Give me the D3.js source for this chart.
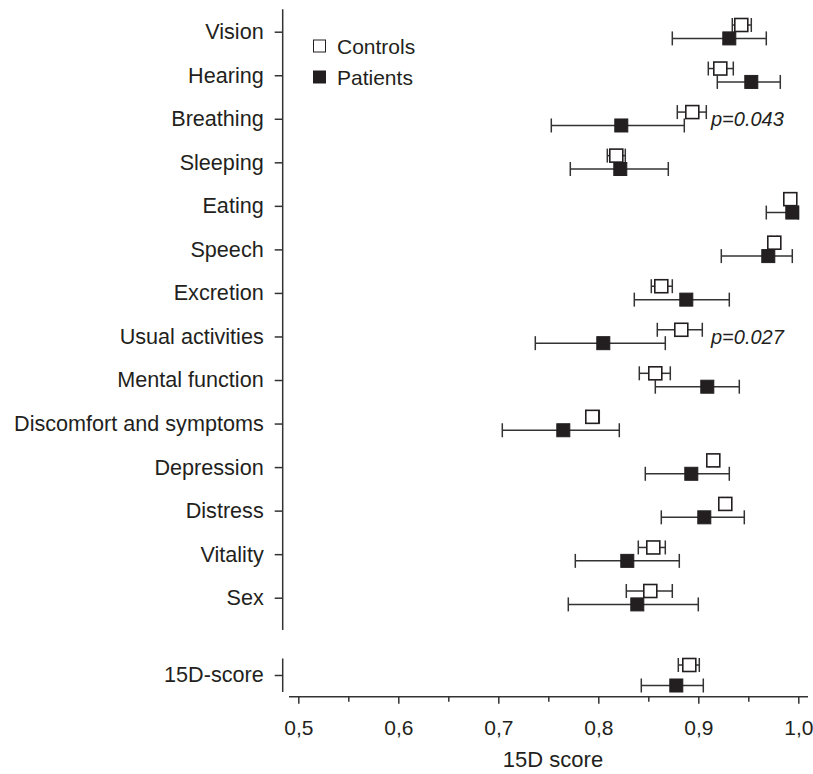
<!DOCTYPE html>
<html>
<head>
<meta charset="utf-8">
<script src="https://cdn.jsdelivr.net/npm/d3@7/dist/d3.min.js"></script>
<style>
  body { margin: 0; background: #fff; }
  svg text { font-family: "Liberation Sans", Arial, sans-serif; fill: #231f20; }
</style>
</head>
<body>
<svg id="chart" width="813" height="774"></svg>
<script>
// 15D dimensions, controls vs patients (mean with CI)
var categories = ["Vision", "Hearing", "Breathing", "Sleeping", "Eating", "Speech", "Excretion",
  "Usual activities", "Mental function", "Discomfort and symptoms", "Depression", "Distress",
  "Vitality", "Sex"];

var ctrlMean = [0.943, 0.922, 0.894, 0.818, 0.992, 0.976, 0.863, 0.883, 0.857, 0.794, 0.915, 0.927, 0.855, 0.852];
var ctrlLo   = [0.934, 0.910, 0.879, 0.809, 0.990, 0.973, 0.853, 0.859, 0.841, 0.788, 0.911, 0.925, 0.840, 0.828];
var ctrlHi   = [0.953, 0.935, 0.908, 0.827, 0.994, 0.979, 0.874, 0.904, 0.872, 0.801, 0.919, 0.929, 0.867, 0.874];

var patMean = [0.931, 0.953, 0.823, 0.822, 0.994, 0.970, 0.888, 0.805, 0.909, 0.765, 0.893, 0.906, 0.829, 0.839];
var patLo   = [0.874, 0.919, 0.753, 0.772, 0.968, 0.923, 0.836, 0.737, 0.857, 0.704, 0.847, 0.863, 0.777, 0.770];
var patHi   = [0.968, 0.982, 0.886, 0.870, 1.000, 0.994, 0.931, 0.867, 0.941, 0.821, 0.931, 0.946, 0.881, 0.900];

var pLabels = [null, null, "p=0.043", null, null, null, null, "p=0.027", null, null, null, null, null, null];

var totalCat = ["15D-score"];
var totalCtrl = [0.891, 0.880, 0.901];   // mean, lo, hi
var totalPat  = [0.878, 0.843, 0.905];

var xTicks = [0.5, 0.55, 0.6, 0.65, 0.7, 0.75, 0.8, 0.85, 0.9, 0.95, 1.0];

var svg = d3.select("#chart");
var ink = "#333";
var sq = 13, cap = 7, off = 6.7;

var x = d3.scaleLinear().domain([0.5, 1.0]).range([298.3, 798.3]);
var y = d3.scalePoint().domain(categories).range([31.7, 597.7]);
var y2 = d3.scalePoint().domain(totalCat).range([675, 675]);

var axisX = 282.7;

// main category axis
var yAxis = svg.append("g")
  .attr("transform", "translate(" + axisX + ",0)")
  .call(d3.axisLeft(y).tickSize(8).tickPadding(11));
yAxis.select(".domain").attr("d", "M0,9.3V630");

var yAxis2 = svg.append("g")
  .attr("transform", "translate(" + axisX + ",0)")
  .call(d3.axisLeft(y2).tickSize(8).tickPadding(11));
yAxis2.select(".domain").attr("d", "M0,658.5V692");

[yAxis, yAxis2].forEach(function(g) {
  g.selectAll(".domain, .tick line").attr("stroke", ink).attr("stroke-width", 1.5);
  g.selectAll("text").style("font-size", "21.6px").attr("fill", "#231f20");
});

// x axis
var fmt = function(d) { return d.toFixed(1).replace(".", ","); };
var xAxis = svg.append("g")
  .attr("transform", "translate(0,696.7)")
  .call(d3.axisBottom(x).tickValues(xTicks).tickSize(7).tickPadding(16)
    .tickFormat(function(d) { return Math.round(d * 100) % 10 === 0 ? fmt(d) : ""; }));
xAxis.select(".domain").attr("d", "M289,0H808").attr("stroke", ink).attr("stroke-width", 1.5);
xAxis.selectAll(".tick line").attr("stroke", ink).attr("stroke-width", 1.5)
  .attr("y2", function(d) { return Math.round(d * 100) % 10 === 0 ? 7 : 5; });
xAxis.selectAll("text").style("font-size", "21px").attr("fill", "#231f20");

svg.append("text")
  .attr("x", 553).attr("y", 767)
  .attr("text-anchor", "middle")
  .style("font-size", "22px")
  .text("15D score");

// draw one mean + CI marker
function marker(g, cy, mean, lo, hi, filled) {
  g.append("line").attr("x1", x(lo)).attr("x2", x(hi)).attr("y1", cy).attr("y2", cy)
    .attr("stroke", ink).attr("stroke-width", 1.5);
  [lo, hi].forEach(function(v) {
    g.append("line").attr("x1", x(v)).attr("x2", x(v)).attr("y1", cy - cap).attr("y2", cy + cap)
      .attr("stroke", ink).attr("stroke-width", 1.5);
  });
  g.append("rect")
    .attr("x", x(mean) - sq / 2).attr("y", cy - sq / 2)
    .attr("width", sq).attr("height", sq)
    .attr("fill", filled ? "#231f20" : "#fff")
    .attr("stroke", "#231f20")
    .attr("stroke-width", filled ? 1 : 1.6);
}

var marks = svg.append("g");
categories.forEach(function(c, i) {
  marker(marks, y(c) - off, ctrlMean[i], ctrlLo[i], ctrlHi[i], false);
  marker(marks, y(c) + off, patMean[i], patLo[i], patHi[i], true);
  if (pLabels[i]) {
    marks.append("text")
      .attr("x", 711).attr("y", y(c)).attr("dy", "0.36em")
      .style("font-size", "20px").style("font-style", "italic")
      .text(pLabels[i]);
  }
});
marker(marks, y2(totalCat[0]) - 10, totalCtrl[0], totalCtrl[1], totalCtrl[2], false);
marker(marks, y2(totalCat[0]) + 10.5, totalPat[0], totalPat[1], totalPat[2], true);

// legend
var legend = svg.append("g");
var legendItems = ["Controls", "Patients"];
legendItems.forEach(function(name, i) {
  var ly = 46 + i * 31;
  legend.append("rect")
    .attr("x", 313.5).attr("y", ly - 6).attr("width", 12).attr("height", 12)
    .attr("fill", i === 0 ? "#fff" : "#231f20")
    .attr("stroke", "#231f20").attr("stroke-width", 1);
  legend.append("text")
    .attr("x", 337).attr("y", ly).attr("dy", "0.36em")
    .style("font-size", "21px")
    .text(name);
});
</script>
</body>
</html>
